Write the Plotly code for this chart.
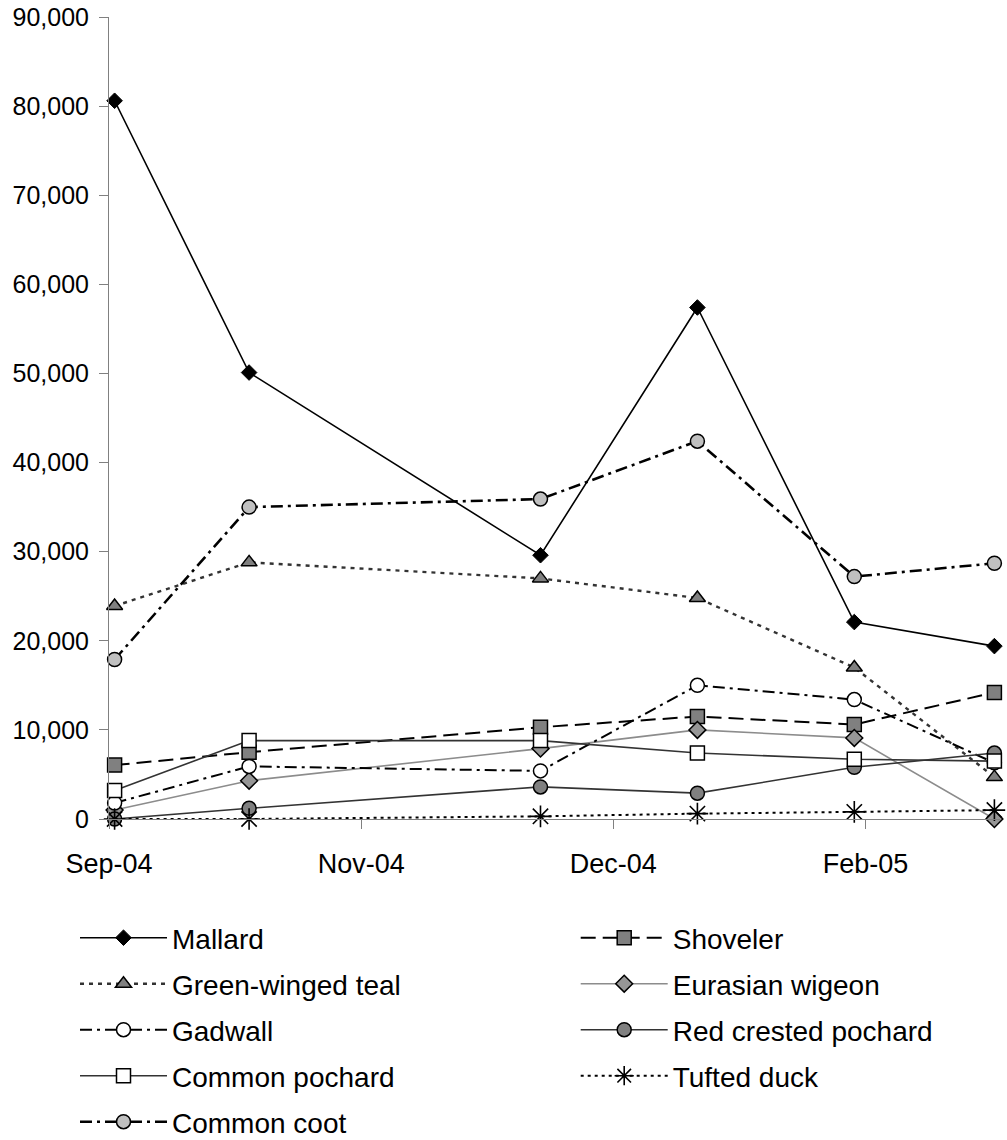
import plotly.graph_objects as go

# ---- data ----
dates = ["2004-09-30", "2004-10-24", "2004-12-15", "2005-01-12", "2005-02-09", "2005-03-06"]
tick_dates = ["2004-09-29", "2004-11-13", "2004-12-28", "2005-02-11"]
tick_labels = ["Sep-04", "Nov-04", "Dec-04", "Feb-05"]
x_range = ["2004-09-29", "2005-03-07"]

mallard = [80600, 50100, 29600, 57400, 22100, 19400]
shoveler = [6050, 7500, 10300, 11500, 10600, 14200]
green_winged_teal = [23900, 28800, 27000, 24800, 17000, 4700]
eurasian_wigeon = [1000, 4300, 7900, 10000, 9100, 0]
gadwall = [1800, 5900, 5400, 15000, 13400, 6300]
red_crested_pochard = [0, 1200, 3600, 2900, 5800, 7400]
common_pochard = [3200, 8800, 8800, 7400, 6700, 6500]
tufted_duck = [0, 0, 300, 600, 800, 1000]
common_coot = [17900, 35000, 35900, 42400, 27200, 28700]

y_ticks = [0, 10000, 20000, 30000, 40000, 50000, 60000, 70000, 80000, 90000]

# ---- styles ----
series = [
    ("Mallard", mallard, dict(color="black", width=1.6, dash="solid"),
     dict(symbol="diamond", size=12, color="black", line=dict(color="black", width=1))),
    ("Shoveler", shoveler, dict(color="black", width=2, dash="15px,7px"),
     dict(symbol="square", size=14, color="#808080", line=dict(color="black", width=1.5))),
    ("Green-winged teal", green_winged_teal, dict(color="#333333", width=2.4, dash="4px,5px"),
     dict(symbol="triangle-up", size=14, color="#808080", line=dict(color="black", width=1.5))),
    ("Eurasian wigeon", eurasian_wigeon, dict(color="#8c8c8c", width=1.6, dash="solid"),
     dict(symbol="diamond", size=13, color="#969696", line=dict(color="black", width=1.5))),
    ("Gadwall", gadwall, dict(color="black", width=2, dash="12px,5px,3px,5px"),
     dict(symbol="circle", size=14, color="white", line=dict(color="black", width=1.5))),
    ("Red crested pochard", red_crested_pochard, dict(color="#333333", width=1.6, dash="solid"),
     dict(symbol="circle", size=14, color="#808080", line=dict(color="black", width=1.5))),
    ("Common pochard", common_pochard, dict(color="#333333", width=1.6, dash="solid"),
     dict(symbol="square", size=14, color="white", line=dict(color="black", width=1.5))),
    ("Tufted duck", tufted_duck, dict(color="black", width=2, dash="3px,4px"),
     dict(symbol="asterisk-open", size=18, color="black", line=dict(color="black", width=1.6))),
    ("Common coot", common_coot, dict(color="black", width=2.6, dash="12px,5px,3px,5px"),
     dict(symbol="circle", size=14, color="#c0c0c0", line=dict(color="black", width=1.5))),
]

# legend grid: (column, row)
legend_cells = [(0, 0), (1, 0), (0, 1), (1, 1), (0, 2), (1, 2), (0, 3), (1, 3), (0, 4)]

W, H = 1007, 1140
ML, MR, MT, MB = 109, 7, 17, 321

col_x = [75, 575.7]
row_y = [938, 984, 1030, 1076, 1122]

fig = go.Figure()
layout_legends = {}
for i, (name, vals, line, marker) in enumerate(series):
    key = "legend" if i == 0 else f"legend{i + 1}"
    fig.add_trace(go.Scatter(
        x=dates, y=vals, name=name, mode="lines+markers",
        line=line, marker=marker, cliponaxis=False, legend=key,
    ))
    c, r = legend_cells[i]
    layout_legends[key] = dict(
        xref="container", yref="container",
        x=col_x[c] / W, y=1 - row_y[r] / H,
        xanchor="left", yanchor="middle", orientation="v",
        itemwidth=87, bgcolor="rgba(0,0,0,0)", borderwidth=0,
        font=dict(family="Liberation Sans, Arial", size=28, color="black"),
    )

fig.update_layout(
    width=W, height=H, autosize=False,
    margin=dict(l=ML, r=MR, t=MT, b=MB, pad=0, autoexpand=False),
    paper_bgcolor="white", plot_bgcolor="white",
    font=dict(family="Liberation Sans, Arial", size=27, color="black"),
    showlegend=True,
    **layout_legends,
)

fig.update_xaxes(
    type="date", range=x_range, tickmode="array", tickvals=tick_dates, ticktext=tick_labels,
    showgrid=False, zeroline=False, showline=True, linecolor="#808080", linewidth=1,
    ticks="outside", ticklen=9, tickcolor="#808080", tickwidth=1,
    ticklabelstandoff=12, automargin=False,
    tickfont=dict(family="Liberation Sans, Arial", size=27, color="black"),
)
fig.update_yaxes(
    range=[0, 90000], tickmode="array", tickvals=y_ticks, tickformat=",",
    showgrid=False, zeroline=False, showline=True, linecolor="#808080", linewidth=1,
    ticks="outside", ticklen=9, tickcolor="#808080", tickwidth=1,
    ticklabelstandoff=5, automargin=False,
    tickfont=dict(family="Liberation Sans, Arial", size=25, color="black"),
)

fig.write_html(
    "out.html",
    config={"displayModeBar": False},
    post_script="document.body.style.margin='0px';document.body.style.overflow='hidden';",
)
